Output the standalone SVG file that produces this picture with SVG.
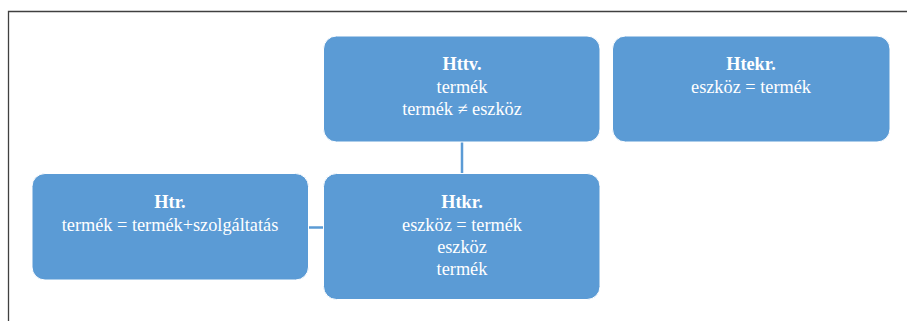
<svg xmlns="http://www.w3.org/2000/svg" width="907" height="321" viewBox="0 0 907 321">
<style>
.box{fill:#5b9bd5;stroke:#ffffff;stroke-width:1}
.t{font-family:"Liberation Serif","DejaVu Serif",serif;font-size:18.3px;fill:#ffffff;text-anchor:middle}
.b{font-weight:bold}
.c{stroke:#5b9bd5;stroke-width:2.5;fill:none}
</style>
<rect width="907" height="321" fill="#ffffff"/>
<path d="M8.5,321 V11.5 H907" fill="none" stroke="#404040" stroke-width="1.3"/>
<g id="connectors">
<line class="c" x1="462" y1="141" x2="462" y2="174"/>
<line class="c" x1="308" y1="227.5" x2="324" y2="227.5"/>
</g>
<g id="httv">
<rect class="box" x="323.5" y="36" width="276.5" height="106" rx="13"/>
<text class="t b" x="462" y="70">Httv.</text>
<text class="t" x="462" y="93">termék</text>
<text class="t" x="462" y="115">termék ≠ eszköz</text>
</g>
<g id="htekr">
<rect class="box" x="612.5" y="36" width="277.5" height="106" rx="13"/>
<text class="t b" x="751" y="70">Htekr.</text>
<text class="t" x="751" y="93">eszköz = termék</text>
</g>
<g id="htr">
<rect class="box" x="32" y="173.5" width="276.5" height="106.5" rx="13"/>
<text class="t b" x="170" y="208">Htr.</text>
<text class="t" x="170" y="231">termék = termék+szolgáltatás</text>
</g>
<g id="htkr">
<rect class="box" x="323.5" y="173.5" width="276.5" height="126" rx="13"/>
<text class="t b" x="462" y="208">Htkr.</text>
<text class="t" x="462" y="231">eszköz = termék</text>
<text class="t" x="462" y="253">eszköz</text>
<text class="t" x="462" y="275">termék</text>
</g>
</svg>
